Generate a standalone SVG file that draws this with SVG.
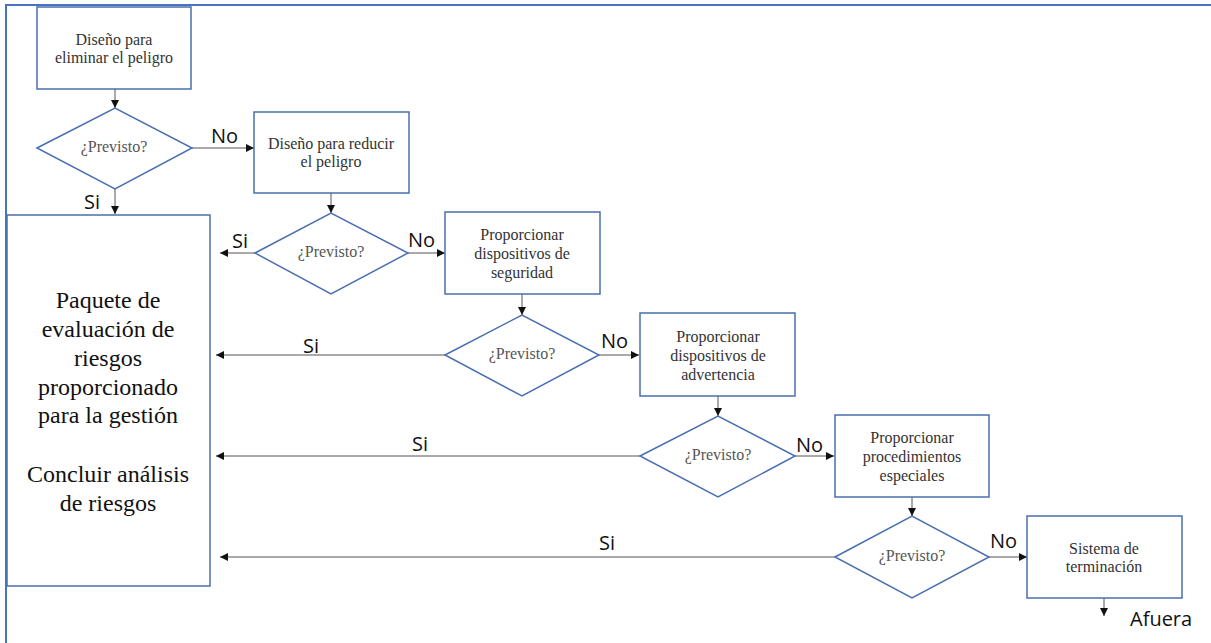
<svg xmlns="http://www.w3.org/2000/svg" width="1211" height="643" viewBox="0 0 1211 643">
<style>
.box{fill:#fff;stroke:#4a6fb0;stroke-width:1.5}
.dia{fill:#fff;stroke:#4a6fb0;stroke-width:1.5}
.t{font-family:'Liberation Serif','Times New Roman',serif;font-size:16px;fill:#333;text-anchor:middle}
.q{font-family:'Liberation Serif','Times New Roman',serif;font-size:16px;fill:#555;text-anchor:middle}
.big{font-family:'Liberation Serif','Times New Roman',serif;font-size:24px;fill:#111;text-anchor:middle}
.lbl{font-family:'Open Sans','Liberation Sans',sans-serif;font-size:20px;fill:#111}
.c{stroke:#555;stroke-width:1;fill:none;marker-end:url(#ah)}
</style>
<defs>
<marker id="ah" viewBox="0 0 10 10" refX="10" refY="5" markerWidth="8" markerHeight="8" markerUnits="userSpaceOnUse" orient="auto">
<path d="M0,0 L10,5 L0,10 z" fill="#111"/>
</marker>
</defs>
<rect width="1211" height="643" fill="#fff"/>
<path d="M6,643 V5 H1211" fill="none" stroke="#4a72c4" stroke-width="2"/>
<g id="connectors">
<line class="c" x1="115" y1="89" x2="115" y2="108"/>
<line class="c" x1="192" y1="148" x2="254" y2="148"/>
<line class="c" x1="115" y1="189" x2="115" y2="214"/>
<line class="c" x1="331" y1="193" x2="331" y2="213"/>
<line class="c" x1="255" y1="253" x2="220" y2="253"/>
<line class="c" x1="408" y1="253" x2="445" y2="253"/>
<line class="c" x1="522" y1="294" x2="522" y2="315"/>
<line class="c" x1="445" y1="355" x2="216" y2="355"/>
<line class="c" x1="599" y1="355" x2="639" y2="355"/>
<line class="c" x1="718" y1="396" x2="718" y2="416"/>
<line class="c" x1="640" y1="456" x2="216" y2="456"/>
<line class="c" x1="795" y1="456" x2="834" y2="456"/>
<line class="c" x1="912" y1="497" x2="912" y2="516"/>
<line class="c" x1="835" y1="557" x2="220" y2="557"/>
<line class="c" x1="989" y1="557" x2="1027" y2="557"/>
<line class="c" x1="1104" y1="598" x2="1104" y2="616"/>
<text class="lbl" x="211" y="143">No</text>
<text class="lbl" x="84" y="209">Si</text>
<text class="lbl" x="232" y="248">Si</text>
<text class="lbl" x="408" y="247">No</text>
<text class="lbl" x="303" y="353">Si</text>
<text class="lbl" x="601" y="348">No</text>
<text class="lbl" x="412" y="451">Si</text>
<text class="lbl" x="796" y="452">No</text>
<text class="lbl" x="599" y="550">Si</text>
<text class="lbl" x="990" y="548">No</text>
<text class="lbl" x="1130" y="626" font-size="22">Afuera</text>
</g>
<g id="n1"><rect class="box" x="37" y="7" width="154" height="82"/>
<text class="t" x="114" y="45">Diseño para</text><text class="t" x="114" y="63">eliminar el peligro</text></g>
<g id="d1"><polygon class="dia" points="37,148 115,108 192,148 115,189"/>
<text class="q" x="114" y="152">¿Previsto?</text></g>
<g id="n2"><rect class="box" x="254" y="112" width="155" height="81"/>
<text class="t" x="331" y="149">Diseño para reducir</text><text class="t" x="331" y="167">el peligro</text></g>
<g id="big"><rect class="box" x="7" y="215" width="203" height="371"/>
<text class="big" x="108" y="308">Paquete de</text>
<text class="big" x="108" y="337">evaluación de</text>
<text class="big" x="108" y="366">riesgos</text>
<text class="big" x="108" y="395">proporcionado</text>
<text class="big" x="108" y="423">para la gestión</text>
<text class="big" x="108" y="482">Concluir análisis</text>
<text class="big" x="108" y="511">de riesgos</text></g>
<g id="d2"><polygon class="dia" points="255,253 331,213 408,253 331,294"/>
<text class="q" x="331" y="257">¿Previsto?</text></g>
<g id="n3"><rect class="box" x="445" y="212" width="155" height="82"/>
<text class="t" x="522" y="240">Proporcionar</text><text class="t" x="522" y="259">dispositivos de</text><text class="t" x="522" y="278">seguridad</text></g>
<g id="d3"><polygon class="dia" points="445,355 522,315 599,355 522,396"/>
<text class="q" x="522" y="359">¿Previsto?</text></g>
<g id="n4"><rect class="box" x="640" y="313" width="155" height="83"/>
<text class="t" x="718" y="342">Proporcionar</text><text class="t" x="718" y="361">dispositivos de</text><text class="t" x="718" y="380">advertencia</text></g>
<g id="d4"><polygon class="dia" points="640,456 718,416 795,456 718,497"/>
<text class="q" x="718" y="460">¿Previsto?</text></g>
<g id="n5"><rect class="box" x="835" y="415" width="154" height="82"/>
<text class="t" x="912" y="443">Proporcionar</text><text class="t" x="912" y="462">procedimientos</text><text class="t" x="912" y="481">especiales</text></g>
<g id="d5"><polygon class="dia" points="835,557 912,516 989,557 912,598"/>
<text class="q" x="912" y="561">¿Previsto?</text></g>
<g id="n6"><rect class="box" x="1027" y="516" width="155" height="82"/>
<text class="t" x="1104" y="554">Sistema de</text><text class="t" x="1104" y="572">terminación</text></g>
</svg>
